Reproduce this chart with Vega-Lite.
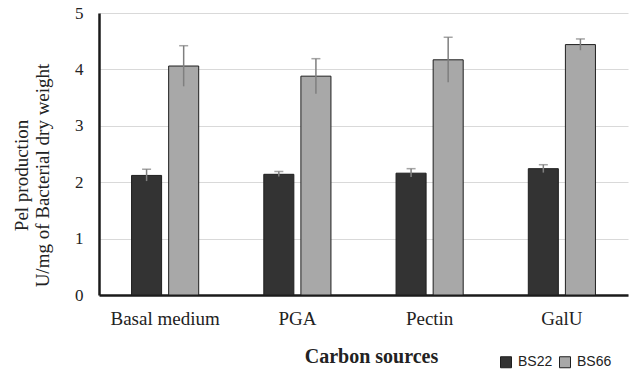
{
  "$schema": "https://vega.github.io/schema/vega-lite/v6.json",
  "width": 529,
  "height": 282,
  "autosize": {"type": "none"},
  "padding": {"left": 99, "top": 13, "right": 2, "bottom": 76},
  "background": "white",
  "config": {
    "view": {"stroke": null},
    "font": "Liberation Serif"
  },
  "data": {
    "values": [
      {"source": "Basal medium", "strain": "BS22", "value": 2.12, "lo": 2.02, "hi": 2.23},
      {"source": "Basal medium", "strain": "BS66", "value": 4.06, "lo": 3.70, "hi": 4.42},
      {"source": "PGA", "strain": "BS22", "value": 2.14, "lo": 2.10, "hi": 2.19},
      {"source": "PGA", "strain": "BS66", "value": 3.88, "lo": 3.57, "hi": 4.19},
      {"source": "Pectin", "strain": "BS22", "value": 2.16, "lo": 2.09, "hi": 2.24},
      {"source": "Pectin", "strain": "BS66", "value": 4.17, "lo": 3.77, "hi": 4.57},
      {"source": "GalU", "strain": "BS22", "value": 2.24, "lo": 2.17, "hi": 2.31},
      {"source": "GalU", "strain": "BS66", "value": 4.44, "lo": 4.34, "hi": 4.54}
    ]
  },
  "encoding": {
    "x": {
      "field": "source",
      "type": "nominal",
      "sort": ["Basal medium", "PGA", "Pectin", "GalU"],
      "scale": {"paddingInner": 0.4924, "paddingOuter": 0.2462},
      "axis": {
        "title": "Carbon sources",
        "titleFont": "Liberation Serif",
        "titleFontSize": 20,
        "titleFontWeight": "bold",
        "titleColor": "#222222",
        "titlePadding": 18,
        "titleX": 272,
        "labelFont": "Liberation Serif",
        "labelFontSize": 19,
        "labelColor": "#222222",
        "labelAngle": 0,
        "labelPadding": 14,
        "ticks": false,
        "domainColor": "#1a1a1a",
        "domainWidth": 2.5
      }
    },
    "xOffset": {
      "field": "strain",
      "type": "nominal",
      "scale": {"paddingInner": 0.19, "paddingOuter": 0}
    }
  },
  "layer": [
    {
      "mark": {"type": "bar", "stroke": "#1f1f1f", "strokeWidth": 1},
      "encoding": {
        "y": {
          "field": "value",
          "type": "quantitative",
          "scale": {"domain": [0, 5]},
          "axis": {
            "values": [0, 1, 2, 3, 4, 5],
            "format": "d",
            "title": ["Pel production", "U/mg of Bacterial dry weight"],
            "titleFont": "Liberation Serif",
            "titleFontSize": 19,
            "titleFontWeight": "normal",
            "titleColor": "#222222",
            "titleLineHeight": 21,
            "titleX": -87,
            "titleY": 162,
            "titleBaseline": "top",
            "titleAlign": "center",
            "titleAngle": -90,
            "labelFont": "Liberation Serif",
            "labelFontSize": 17,
            "labelColor": "#222222",
            "labelPadding": 16,
            "ticks": false,
            "domainColor": "#1a1a1a",
            "domainWidth": 2.5,
            "grid": true,
            "gridColor": "#d9d9d9",
            "gridWidth": 1.2
          }
        },
        "color": {
          "field": "strain",
          "type": "nominal",
          "scale": {"domain": ["BS22", "BS66"], "range": ["#333333", "#a8a8a8"]},
          "legend": {
            "title": null,
            "orient": "none",
            "direction": "horizontal",
            "legendX": 400,
            "legendY": 342,
            "symbolType": "square",
            "symbolSize": 121,
            "symbolStrokeColor": "#1f1f1f",
            "symbolStrokeWidth": 1,
            "labelFont": "Liberation Sans",
            "labelFontSize": 14,
            "labelColor": "#222222",
            "labelOffset": 5,
            "columnPadding": 4
          }
        }
      }
    },
    {
      "mark": {"type": "rule", "color": "#7f7f7f", "strokeWidth": 1.5},
      "encoding": {
        "y": {"field": "lo", "type": "quantitative"},
        "y2": {"field": "hi"}
      }
    },
    {
      "mark": {"type": "tick", "color": "#7f7f7f", "thickness": 1.5, "size": 9, "orient": "horizontal"},
      "encoding": {
        "y": {"field": "hi", "type": "quantitative"}
      }
    }
  ]
}
